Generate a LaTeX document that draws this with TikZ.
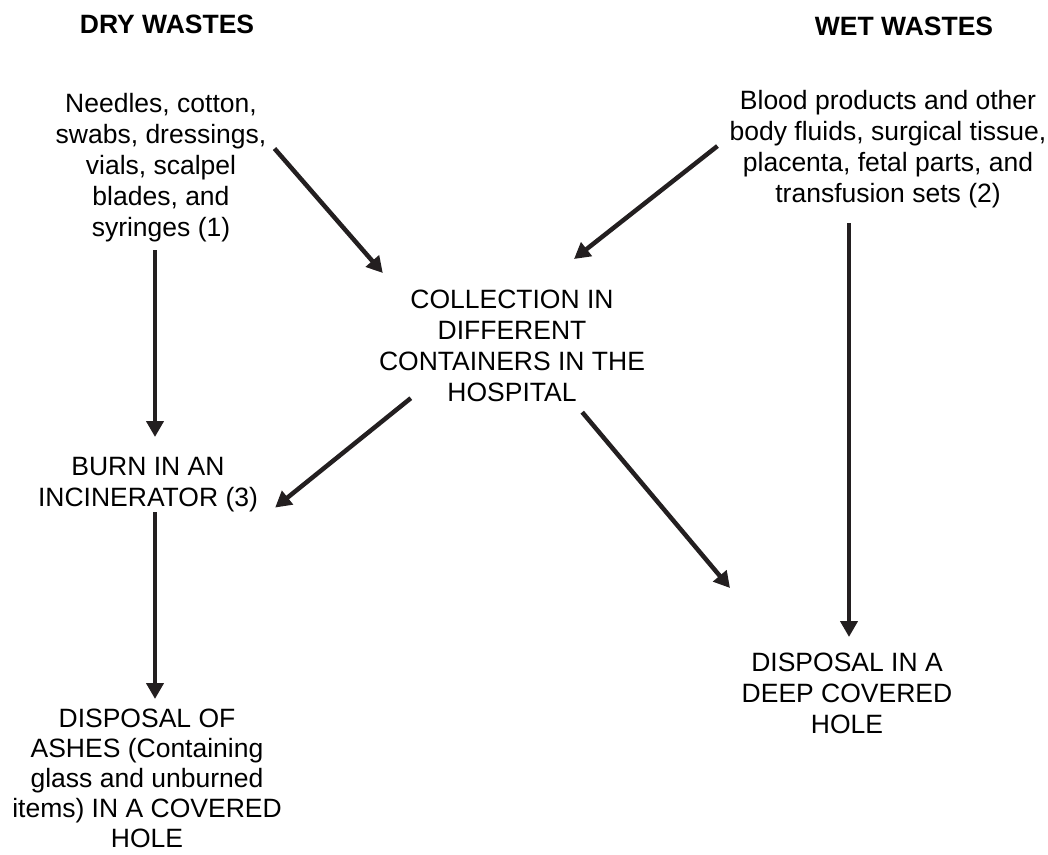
\documentclass[tikz,border=0pt]{standalone}
\usepackage{fontspec}
\setmainfont{Liberation Sans}
\usetikzlibrary{arrows.meta}
\definecolor{inkgray}{HTML}{231F20}

\begin{document}
\begin{tikzpicture}[
    x=1pt,
    y=-1pt,
    >={Triangle[length=16pt,width=17pt]},
    heading/.style={font=\fontsize{26.5}{31}\selectfont\bfseries, inner sep=0pt, anchor=base},
    txt/.style={align=center, inner sep=0pt, anchor=north, font=\fontsize{26.5}{31}\selectfont},
    line/.style={->, line width=4.5pt, draw=inkgray}
]
\useasboundingbox (0,0) rectangle (1048,854);
\node[heading] (drytitle) at (167,33.5) {DRY WASTES};
\node[heading] (wettitle) at (904,35) {WET WASTES};
\node[txt] (dry) at (161,93) {Needles, cotton,\\swabs, dressings,\\vials, scalpel\\blades, and\\syringes (1)};
\node[txt] (wet) at (888,90) {Blood products and other\\body fluids, surgical tissue,\\placenta, fetal parts, and\\transfusion sets (2)};
\node[txt] (coll) at (512,290) {COLLECTION IN\\DIFFERENT\\CONTAINERS IN THE\\HOSPITAL};
\node[txt] (burn) at (148,457) {BURN IN AN\\INCINERATOR (3)};
\node[txt, font=\fontsize{26.5}{30}\selectfont] (ashes) at (147,709) {DISPOSAL OF\\ASHES (Containing\\glass and unburned\\items) IN A COVERED\\HOLE};
\node[txt] (deep) at (847,653) {DISPOSAL IN A\\DEEP COVERED\\HOLE};

\draw[line, shorten <=8pt, shorten >=20pt] ([xshift=-6pt]dry.south) -- ([xshift=7pt]burn.north);
\draw[line] ([xshift=8pt,yshift=19pt]dry.east) -- ([xshift=4pt,yshift=17pt]coll.north west);
\draw[line] ([xshift=-12pt,yshift=3pt]wet.west) -- ([xshift=62pt,yshift=31pt]coll.north);
\draw[line, shorten <=15pt, shorten >=16pt] ([xshift=-39pt]wet.south) -- ([xshift=2pt]deep.north);
\draw[line] ([xshift=32pt,yshift=4pt]coll.south west) -- ([xshift=17pt,yshift=-23pt]burn.east);
\draw[line] ([xshift=-63pt,yshift=-10pt]coll.south east) -- ([xshift=-117pt,yshift=65pt]deep.north);
\draw[line, shorten >=10pt] ([xshift=7pt]burn.south) -- ([xshift=8pt]ashes.north);
\end{tikzpicture}
\end{document}
